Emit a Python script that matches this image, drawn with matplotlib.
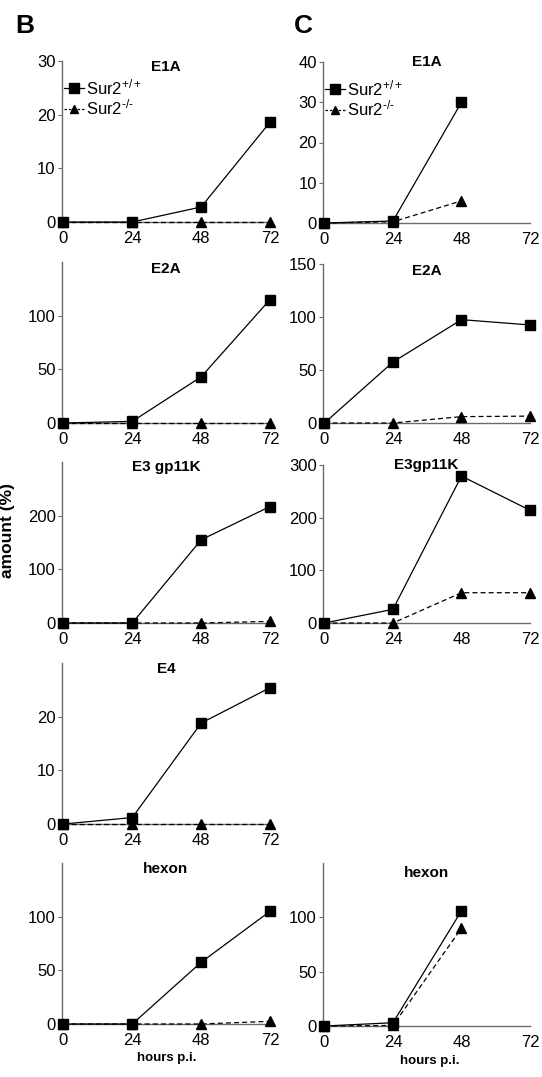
import matplotlib
matplotlib.use("Agg")
import matplotlib.pyplot as plt
from matplotlib.lines import Line2D

# ---------------- data ----------------
hours = [0, 24, 48, 72]
hours_c_short = [0, 24, 48]

B_E1A_wt = [0, 0, 2.8, 18.6]
B_E1A_ko = [0, 0, 0, 0]
B_E2A_wt = [0, 1.5, 43, 115]
B_E2A_ko = [0, 0, 0, 0]
B_E3_wt = [0, 0, 155, 217]
B_E3_ko = [0, 0, 0, 3]
B_E4_wt = [0, 1.2, 18.8, 25.4]
B_E4_ko = [0, 0, 0, 0]
B_hex_wt = [0, 0, 57.5, 105]
B_hex_ko = [0, 0, 0, 2.5]

C_E1A_wt = [0, 0.5, 30]
C_E1A_ko = [0, 0.3, 5.5]
C_E2A_wt = [0, 57.5, 97.5, 92.5]
C_E2A_ko = [0, 0, 6, 6.5]
C_E3_wt = [0, 26, 279, 214]
C_E3_ko = [0, 0, 57.5, 57.5]
C_hex_wt = [0, 3, 106]
C_hex_ko = [0, 0.5, 90]

titles_B = ["E1A", "E2A", "E3 gp11K", "E4", "hexon"]
titles_C = ["E1A", "E2A", "E3gp11K", "hexon"]
yticks_B = [[0, 10, 20, 30], [0, 50, 100], [0, 100, 200], [0, 10, 20], [0, 50, 100]]
ylims_B = [30, 150, 300, 30, 150]
yticks_C = [[0, 10, 20, 30, 40], [0, 50, 100, 150], [0, 100, 200, 300], [0, 50, 100]]
ylims_C = [40, 150, 300, 150]
xticks = [0, 24, 48, 72]
legend_labels = ["Sur2$^{+/+}$", "Sur2$^{\u2010/\u2010}$"]

# ---------------- style ----------------
W, H = 542, 1077
plt.rcParams['font.family'] = ['Liberation Sans', 'DejaVu Sans']
plt.rcParams['mathtext.fontset'] = 'custom'
plt.rcParams['mathtext.rm'] = 'Liberation Sans'
plt.rcParams['mathtext.default'] = 'regular'

fig = plt.figure(figsize=(W / 100, H / 100), dpi=100)

def px_axes(left, right, top, bottom):
    return fig.add_axes([left / W, 1 - bottom / H, (right - left) / W, (bottom - top) / H])

spine_col = "#6a6a6a"
TICK_FS = 12
TITLE_FS = 11

def style(ax, ymax, yt, title, ty):
    ax.set_xlim(-0.5, 72)
    ax.set_ylim(0, ymax)
    ax.set_xticks(xticks)
    ax.set_yticks(yt)
    for s in ['top', 'right']:
        ax.spines[s].set_visible(False)
    for s in ['left', 'bottom']:
        ax.spines[s].set_color(spine_col)
        ax.spines[s].set_linewidth(1.0)
    ax.tick_params(axis='y', length=3, width=0.8, color=spine_col, pad=1.5, labelsize=TICK_FS)
    ax.tick_params(axis='x', length=0, pad=6.5, labelsize=TICK_FS)
    ax.patch.set_alpha(0)
    ax.text(0.5, ty, title, transform=ax.transAxes, ha='center', va='center',
            fontsize=TITLE_FS, fontweight='bold')

def plot_pair(ax, x_wt, wt, x_ko, ko):
    ax.plot(x_ko, ko, color='black', lw=0.9, ls=(0, (4, 2.5)), marker='^', ms=6.5,
            clip_on=False, zorder=3)
    ax.plot(x_wt, wt, color='black', lw=0.9, ls='-', marker='s', ms=7.5,
            clip_on=False, zorder=4)

# Column B
B_rows = [(61, 222), (262, 423), (462, 623), (663, 824), (863, 1024)]
B_ty = [0.963, 0.957, 0.97, 0.96, 0.96]
B_data = [(B_E1A_wt, B_E1A_ko), (B_E2A_wt, B_E2A_ko), (B_E3_wt, B_E3_ko),
          (B_E4_wt, B_E4_ko), (B_hex_wt, B_hex_ko)]
axesB = []
for i, (top, bot) in enumerate(B_rows):
    ax = px_axes(62, 270, top, bot)
    style(ax, ylims_B[i], yticks_B[i], titles_B[i], B_ty[i])
    wt, ko = B_data[i]
    plot_pair(ax, hours, wt, hours, ko)
    axesB.append(ax)

# Column C
C_rows = [(62, 223), (264, 423), (465, 623), (863, 1026)]
C_ty = [1.0, 0.956, 1.0, 0.94]
C_data = [(hours_c_short, C_E1A_wt, hours_c_short, C_E1A_ko),
          (hours, C_E2A_wt, hours, C_E2A_ko),
          (hours, C_E3_wt, hours, C_E3_ko),
          (hours_c_short, C_hex_wt, hours_c_short, C_hex_ko)]
axesC = []
for i, (top, bot) in enumerate(C_rows):
    ax = px_axes(323, 530, top, bot)
    style(ax, ylims_C[i], yticks_C[i], titles_C[i], C_ty[i])
    xw, wt, xk, ko = C_data[i]
    plot_pair(ax, xw, wt, xk, ko)
    axesC.append(ax)

# Legends
handles = [Line2D([], [], color='black', lw=0.9, ls='-', marker='s', ms=7),
           Line2D([], [], color='black', lw=0.9, ls=(0, (2, 1.5)), marker='^', ms=6)]
for ax in (axesB[0], axesC[0]):
    ax.legend(handles, legend_labels, loc='upper left', bbox_to_anchor=(0.0, 0.91),
              frameon=False, fontsize=12, handlelength=1.2, handletextpad=0.15,
              labelspacing=0.05, borderpad=0, borderaxespad=0.1)

# Axis labels / panel letters
fig.text(8 / W, 1 - 530 / H, "amount (%)", rotation=90, ha='center', va='center',
         fontsize=12.5, fontweight='bold')
fig.text(167 / W, 1 - 1058 / H, "hours p.i.", ha='center', va='center',
         fontsize=9.5, fontweight='bold')
fig.text(430 / W, 1 - 1061 / H, "hours p.i.", ha='center', va='center',
         fontsize=9.5, fontweight='bold')
fig.text(25 / W, 1 - 26 / H, "B", ha='center', va='center',
         fontsize=19, fontweight='bold')
fig.text(303 / W, 1 - 26 / H, "C", ha='center', va='center',
         fontsize=19, fontweight='bold')

fig.savefig("out.png", dpi=100, facecolor='white')
